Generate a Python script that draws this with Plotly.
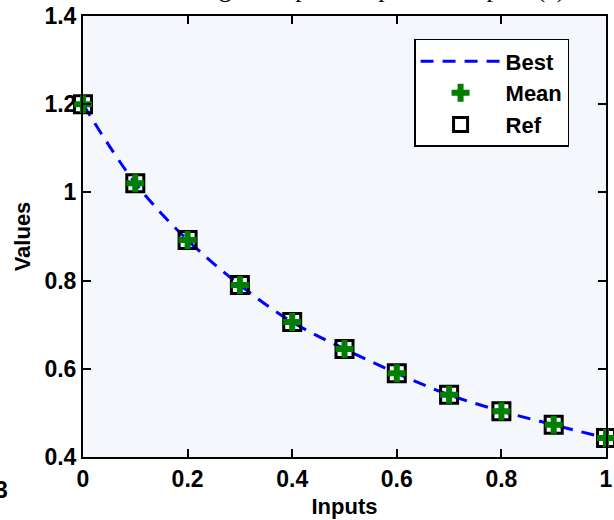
import plotly.graph_objects as go

inputs = [0.0, 0.1, 0.2, 0.3, 0.4, 0.5, 0.6, 0.7, 0.8, 0.9, 1.0]
best = [1.200, 1.021, 0.892, 0.790, 0.706, 0.645, 0.590, 0.541, 0.504, 0.473, 0.443]
mean = [1.200, 1.021, 0.892, 0.790, 0.706, 0.645, 0.590, 0.541, 0.504, 0.473, 0.443]
ref = [1.200, 1.021, 0.892, 0.790, 0.706, 0.645, 0.590, 0.541, 0.504, 0.473, 0.443]
x_ticks = [0, 0.2, 0.4, 0.6, 0.8, 1]
x_tick_labels = ["0", "0.2", "0.4", "0.6", "0.8", "1"]
y_ticks = [0.4, 0.6, 0.8, 1.0, 1.2, 1.4]
y_tick_labels = ["0.4", "0.6", "0.8", "1", "1.2", "1.4"]

FONT = "Liberation Sans, Arial, sans-serif"

fig = go.Figure()
fig.add_trace(go.Scatter(
    x=inputs, y=best, name="<b>Best</b>", mode="lines",
    line=dict(color="#0000ff", width=3, dash="13px,9px", shape="spline"),
    cliponaxis=False,
))
fig.add_trace(go.Scatter(
    x=inputs, y=ref, name="<b>Ref</b>", mode="markers",
    marker=dict(symbol="square-open", size=17, color="#000000",
                line=dict(color="#000000", width=3)),
    cliponaxis=False, showlegend=False,
))
fig.add_trace(go.Scatter(
    x=inputs, y=mean, name="<b>Mean</b>", mode="markers",
    marker=dict(symbol="cross", size=15, color="#007f00",
                line=dict(width=0)),
    cliponaxis=False,
))
# legend-only entry for Ref (listed after Mean in the legend)
fig.add_trace(go.Scatter(
    x=[None], y=[None], name="<b>Ref</b>", mode="markers",
    marker=dict(symbol="square-open", size=14, color="#000000",
                line=dict(color="#000000", width=3)),
))

axis_common = dict(
    showline=True, linecolor="#000000", linewidth=2, mirror="ticks",
    ticks="inside", ticklen=8, tickwidth=1.5, tickcolor="#000000",
    showgrid=False, zeroline=False, ticklabeloverflow="allow",
    tickfont=dict(family=FONT, size=23, color="#000000", weight="bold"),
)

fig.update_layout(
    width=614, height=520,
    margin=dict(l=83, r=1, t=16, b=63),
    paper_bgcolor="#ffffff",
    plot_bgcolor="#f4f7fc",
    showlegend=True,
    legend=dict(
        x=0.633, y=0.948, xanchor="left", yanchor="top",
        bgcolor="#ffffff", bordercolor="#000000", borderwidth=1.5,
        font=dict(family=FONT, size=22, color="#000000"),
        itemwidth=80, tracegroupgap=0,
    ),
    xaxis=dict(
        range=[0, 1], tickvals=x_ticks, ticktext=x_tick_labels,
        title=dict(text="<b>Inputs</b>", font=dict(family=FONT, size=22, color="#000000"), standoff=8),
        **axis_common,
    ),
    yaxis=dict(
        range=[0.4, 1.4], tickvals=y_ticks, ticktext=y_tick_labels,
        title=dict(text="<b>Values</b>", font=dict(family=FONT, size=22, color="#000000"), standoff=8),
        **axis_common,
    ),
    annotations=[
        dict(text="Fig. Comparison plot of outputs (c)", xref="paper", yref="paper",
             x=0.57, y=1.0, xanchor="center", yanchor="bottom", yshift=11,
             showarrow=False,
             font=dict(family="Liberation Serif, Times New Roman, serif", size=26, color="#000000")),
        dict(text="<b>3</b>", xref="paper", yref="paper", x=-0.172, y=-0.075,
             xanchor="left", yanchor="middle", showarrow=False,
             font=dict(family=FONT, size=23, color="#000000")),
    ],
)

fig.write_html("out.html")
